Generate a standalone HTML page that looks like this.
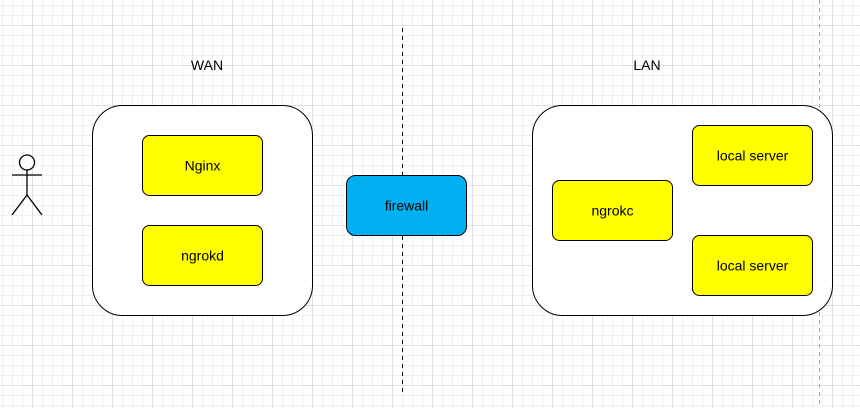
<!DOCTYPE html>
<html><head><meta charset="utf-8"><style>
html,body{margin:0;padding:0;background:#fff}
svg{display:block}
text{font-family:"Liberation Sans","DejaVu Sans",sans-serif;font-size:14px}
</style></head><body>
<svg width="860" height="408" viewBox="0 0 860 408" xmlns="http://www.w3.org/2000/svg">
<defs>
<pattern id="minor" x="2" y="5" width="10" height="10" patternUnits="userSpaceOnUse">
<path d="M0.5 0V10M0 0.5H10" stroke="#f0f0f0" stroke-width="1" fill="none"/>
</pattern>
<pattern id="major" x="32" y="25" width="40" height="40" patternUnits="userSpaceOnUse">
<path d="M0.5 0V40M0 0.5H40" stroke="#dedede" stroke-width="1" fill="none"/>
</pattern>
</defs>
<rect width="860" height="408" fill="url(#minor)"/>
<rect width="860" height="408" fill="url(#major)"/>

<line x1="819.5" y1="0" x2="819.5" y2="408" stroke="#aaa" stroke-dasharray="4 4"/>
<line x1="402.5" y1="28" x2="402.5" y2="396" stroke="#000" stroke-dasharray="4 4"/>

<g stroke="#000" stroke-width="1.3" fill="none">
<circle cx="27" cy="162.5" r="7.5" fill="#fff"/>
<line x1="12" y1="175" x2="42" y2="175"/>
<line x1="27" y1="170" x2="27" y2="195"/>
<line x1="27" y1="195" x2="12" y2="215"/>
<line x1="27" y1="195" x2="42" y2="215"/>
</g>

<text x="207" y="70" text-anchor="middle">WAN</text>
<text x="647" y="70" text-anchor="middle">LAN</text>

<rect x="92.5" y="105.5" width="220" height="210" rx="30" fill="#fff" stroke="#000"/>
<rect x="532.5" y="105.5" width="300" height="210" rx="30" fill="#fff" stroke="#000"/>

<g stroke="#000" fill="#ffff00">
<rect x="142.5" y="135.5" width="120" height="60" rx="7"/>
<rect x="142.5" y="225.5" width="120" height="60" rx="7"/>
<rect x="552.5" y="180.5" width="120" height="60" rx="7"/>
<rect x="692.5" y="125.5" width="120" height="60" rx="7"/>
<rect x="692.5" y="235.5" width="120" height="60" rx="7"/>
</g>
<rect x="346.5" y="175.5" width="120" height="60" rx="9" fill="#00b0f0" stroke="#000"/>

<g text-anchor="middle">
<text x="202.5" y="170.5">Nginx</text>
<text x="202.5" y="260.5">ngrokd</text>
<text x="406.5" y="210.5">firewall</text>
<text x="612.5" y="215.5">ngrokc</text>
<text x="752.5" y="160.5">local server</text>
<text x="752.5" y="270.5">local server</text>
</g>
</svg>
</body></html>
